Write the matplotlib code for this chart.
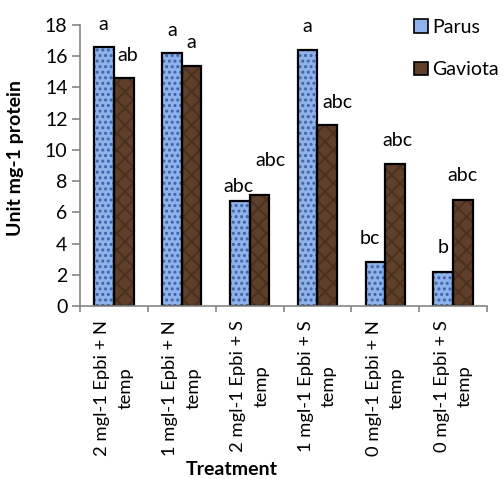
import numpy as np
import matplotlib
matplotlib.use("Agg")
import matplotlib.pyplot as plt
from matplotlib.patches import Patch

# data
treatments = [
    "2 mgl-1 Epbi + N\ntemp",
    "1 mgl-1 Epbi + N\ntemp",
    "2 mgl-1 Epbi + S\ntemp",
    "1 mgl-1 Epbi + S\ntemp",
    "0 mgl-1 Epbi + N\ntemp",
    "0 mgl-1 Epbi + S\ntemp",
]
parus = [16.6, 16.2, 6.7, 16.4, 2.8, 2.2]
gaviota = [14.6, 15.4, 7.1, 11.6, 9.1, 6.8]
parus_letters = ["a", "a", "abc", "a", "bc", "b"]
gaviota_letters = ["ab", "a", "abc", "abc", "abc", "abc"]

# label offsets in pixels (dx, dy above bar top)
parus_off = [(-1, 22), (0, 23), (-1, 15), (0, 23), (-6, 24), (0, 24)]
gaviota_off = [(4, 23), (0, 23), (11, 35), (10, 22), (2, 23), (0, 24)]

plt.rcParams["font.family"] = ["Lato", "DejaVu Sans"]
plt.rcParams["hatch.linewidth"] = 1.4
fs = 14

fig = plt.figure(figsize=(5.03, 4.79), dpi=100)
ax = fig.add_axes([80 / 503, 1 - 306 / 479, 407 / 503, 281 / 479])

x = np.arange(len(treatments)) + 0.5
w = 0.29
blue, blue_dark = "#8fb2ea", "#3d63a6"
brown, brown_dark = "#5e3f2a", "#4c301e"

# textured fill, then black outline
ax.bar(x - w / 2, parus, w, color=blue, edgecolor=blue_dark, linewidth=0, hatch="...")
ax.bar(x + w / 2, gaviota, w, color=brown, edgecolor=brown_dark, linewidth=0, hatch="xx")
ax.bar(x - w / 2, parus, w, fill=False, edgecolor="black", linewidth=1.6)
ax.bar(x + w / 2, gaviota, w, fill=False, edgecolor="black", linewidth=1.6)

for i in range(len(x)):
    ax.annotate(parus_letters[i], (x[i] - w / 2, parus[i]), xytext=parus_off[i],
                textcoords="offset pixels", ha="center", va="center", fontsize=fs)
    ax.annotate(gaviota_letters[i], (x[i] + w / 2, gaviota[i]), xytext=gaviota_off[i],
                textcoords="offset pixels", ha="center", va="center", fontsize=fs)

ax.set_xlim(0, len(treatments))
ax.set_ylim(0, 18)
ax.set_yticks(np.arange(0, 19, 2))
ax.set_xticks(np.arange(0, len(treatments) + 1))
ax.set_xticklabels([])
ax.set_xticks(x, minor=True)
ax.set_xticklabels(treatments, minor=True, rotation=90, ha="center", va="top",
                   fontsize=13.2, linespacing=1.55)
ax.tick_params(axis="x", which="major", length=4, color="#868686", width=1.2)
ax.tick_params(axis="x", which="minor", length=0, pad=10)
ax.tick_params(axis="y", length=6, color="#868686", width=1.2, labelsize=fs, pad=3)

for s in ["top", "right"]:
    ax.spines[s].set_visible(False)
for s in ["left", "bottom"]:
    ax.spines[s].set_color("#868686")
    ax.spines[s].set_linewidth(1.2)

ax.set_ylabel("Unit mg-1 protein", fontsize=fs, fontweight="bold")
ax.set_xlabel("Treatment", fontsize=fs, fontweight="bold")
ax.yaxis.set_label_coords(-0.137, 0.527)
ax.xaxis.set_label_coords(0.373, -0.553)

handles = [
    Patch(facecolor=blue, edgecolor="black", linewidth=1.2, label="Parus"),
    Patch(facecolor=brown, edgecolor="black", linewidth=1.2, label="Gaviota"),
]
fig.legend(handles=handles, loc="upper left", bbox_to_anchor=(414 / 503, 1 - 19 / 479),
           frameon=False, fontsize=fs, handlelength=0.7, handleheight=0.7,
           handletextpad=0.25, labelspacing=1.3, borderaxespad=0, borderpad=0)

fig.savefig("out.png", dpi=100)
